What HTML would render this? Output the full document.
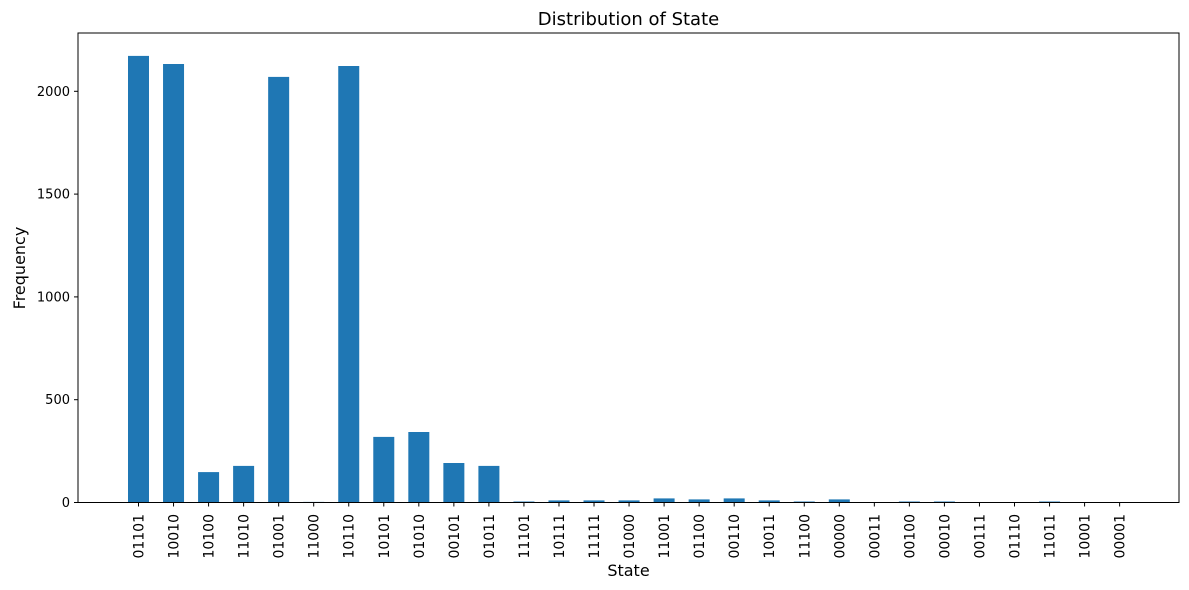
<!DOCTYPE html>
<html><head><style>body{margin:0;background:#fff}svg{display:block;font-family:"DejaVu Sans","Liberation Sans",sans-serif}</style></head>
<body>
<svg width="1189" height="590" xmlns="http://www.w3.org/2000/svg">
<text x="628.5" y="25" font-size="18" text-anchor="middle">Distribution of State</text>
<g fill="#1f77b4">
<rect x="128" y="55.9" width="21" height="446.6"/>
<rect x="163.04" y="64" width="21" height="438.5"/>
<rect x="198.08" y="472.1" width="21" height="30.4"/>
<rect x="233.12" y="465.9" width="21" height="36.6"/>
<rect x="268.16" y="76.9" width="21" height="425.6"/>
<rect x="303.2" y="501.9" width="21" height="0.6"/>
<rect x="338.24" y="66" width="21" height="436.5"/>
<rect x="373.28" y="436.9" width="21" height="65.6"/>
<rect x="408.32" y="432" width="21" height="70.5"/>
<rect x="443.36" y="463" width="21" height="39.5"/>
<rect x="478.4" y="465.9" width="21" height="36.6"/>
<rect x="513.44" y="501.5" width="21" height="1"/>
<rect x="548.48" y="500.4" width="21" height="2.1"/>
<rect x="583.52" y="500.4" width="21" height="2.1"/>
<rect x="618.56" y="500.4" width="21" height="2.1"/>
<rect x="653.6" y="498.4" width="21" height="4.1"/>
<rect x="688.64" y="499.4" width="21" height="3.1"/>
<rect x="723.68" y="498.4" width="21" height="4.1"/>
<rect x="758.72" y="500.4" width="21" height="2.1"/>
<rect x="793.76" y="501.5" width="21" height="1"/>
<rect x="828.8" y="499.4" width="21" height="3.1"/>
<rect x="898.88" y="501.5" width="21" height="1"/>
<rect x="933.92" y="501.5" width="21" height="1"/>
<rect x="1039.04" y="501.5" width="21" height="1"/>
</g>
<rect x="78" y="33" width="1101" height="469.5" fill="none" stroke="#000" stroke-width="1"/>
<g stroke="#000">
<line x1="74" x2="78" y1="502.5" y2="502.5"/>
<line x1="74" x2="78" y1="399.7" y2="399.7"/>
<line x1="74" x2="78" y1="296.9" y2="296.9"/>
<line x1="74" x2="78" y1="194.1" y2="194.1"/>
<line x1="74" x2="78" y1="91.3" y2="91.3"/>
</g>
<g font-size="13" text-anchor="end">
<text x="70" y="507">0</text>
<text x="70" y="404.2">500</text>
<text x="70" y="301.4">1000</text>
<text x="70" y="198.6">1500</text>
<text x="70" y="95.8">2000</text>
</g>
<g stroke="#000">
<line x1="138.5" x2="138.5" y1="502.5" y2="506.5"/><line x1="173.54" x2="173.54" y1="502.5" y2="506.5"/><line x1="208.58" x2="208.58" y1="502.5" y2="506.5"/><line x1="243.62" x2="243.62" y1="502.5" y2="506.5"/><line x1="278.66" x2="278.66" y1="502.5" y2="506.5"/><line x1="313.7" x2="313.7" y1="502.5" y2="506.5"/><line x1="348.74" x2="348.74" y1="502.5" y2="506.5"/><line x1="383.78" x2="383.78" y1="502.5" y2="506.5"/><line x1="418.82" x2="418.82" y1="502.5" y2="506.5"/><line x1="453.86" x2="453.86" y1="502.5" y2="506.5"/><line x1="488.9" x2="488.9" y1="502.5" y2="506.5"/><line x1="523.94" x2="523.94" y1="502.5" y2="506.5"/><line x1="558.98" x2="558.98" y1="502.5" y2="506.5"/><line x1="594.02" x2="594.02" y1="502.5" y2="506.5"/><line x1="629.06" x2="629.06" y1="502.5" y2="506.5"/><line x1="664.1" x2="664.1" y1="502.5" y2="506.5"/><line x1="699.14" x2="699.14" y1="502.5" y2="506.5"/><line x1="734.18" x2="734.18" y1="502.5" y2="506.5"/><line x1="769.22" x2="769.22" y1="502.5" y2="506.5"/><line x1="804.26" x2="804.26" y1="502.5" y2="506.5"/><line x1="839.3" x2="839.3" y1="502.5" y2="506.5"/><line x1="874.34" x2="874.34" y1="502.5" y2="506.5"/><line x1="909.38" x2="909.38" y1="502.5" y2="506.5"/><line x1="944.42" x2="944.42" y1="502.5" y2="506.5"/><line x1="979.46" x2="979.46" y1="502.5" y2="506.5"/><line x1="1014.5" x2="1014.5" y1="502.5" y2="506.5"/><line x1="1049.54" x2="1049.54" y1="502.5" y2="506.5"/><line x1="1084.58" x2="1084.58" y1="502.5" y2="506.5"/><line x1="1119.62" x2="1119.62" y1="502.5" y2="506.5"/>
</g>
<g font-size="14" text-anchor="end">
<text transform="translate(143.5,514) rotate(-90)">01101</text>
<text transform="translate(178.54,514) rotate(-90)">10010</text>
<text transform="translate(213.58,514) rotate(-90)">10100</text>
<text transform="translate(248.62,514) rotate(-90)">11010</text>
<text transform="translate(283.66,514) rotate(-90)">01001</text>
<text transform="translate(318.7,514) rotate(-90)">11000</text>
<text transform="translate(353.74,514) rotate(-90)">10110</text>
<text transform="translate(388.78,514) rotate(-90)">10101</text>
<text transform="translate(423.82,514) rotate(-90)">01010</text>
<text transform="translate(458.86,514) rotate(-90)">00101</text>
<text transform="translate(493.9,514) rotate(-90)">01011</text>
<text transform="translate(528.94,514) rotate(-90)">11101</text>
<text transform="translate(563.98,514) rotate(-90)">10111</text>
<text transform="translate(599.02,514) rotate(-90)">11111</text>
<text transform="translate(634.06,514) rotate(-90)">01000</text>
<text transform="translate(669.1,514) rotate(-90)">11001</text>
<text transform="translate(704.14,514) rotate(-90)">01100</text>
<text transform="translate(739.18,514) rotate(-90)">00110</text>
<text transform="translate(774.22,514) rotate(-90)">10011</text>
<text transform="translate(809.26,514) rotate(-90)">11100</text>
<text transform="translate(844.3,514) rotate(-90)">00000</text>
<text transform="translate(879.34,514) rotate(-90)">00011</text>
<text transform="translate(914.38,514) rotate(-90)">00100</text>
<text transform="translate(949.42,514) rotate(-90)">00010</text>
<text transform="translate(984.46,514) rotate(-90)">00111</text>
<text transform="translate(1019.5,514) rotate(-90)">01110</text>
<text transform="translate(1054.54,514) rotate(-90)">11011</text>
<text transform="translate(1089.58,514) rotate(-90)">10001</text>
<text transform="translate(1124.62,514) rotate(-90)">00001</text>
</g>
<text x="628.5" y="576" font-size="16" text-anchor="middle">State</text>
<text transform="translate(25,268) rotate(-90)" font-size="16" text-anchor="middle">Frequency</text>
</svg>
</body></html>
